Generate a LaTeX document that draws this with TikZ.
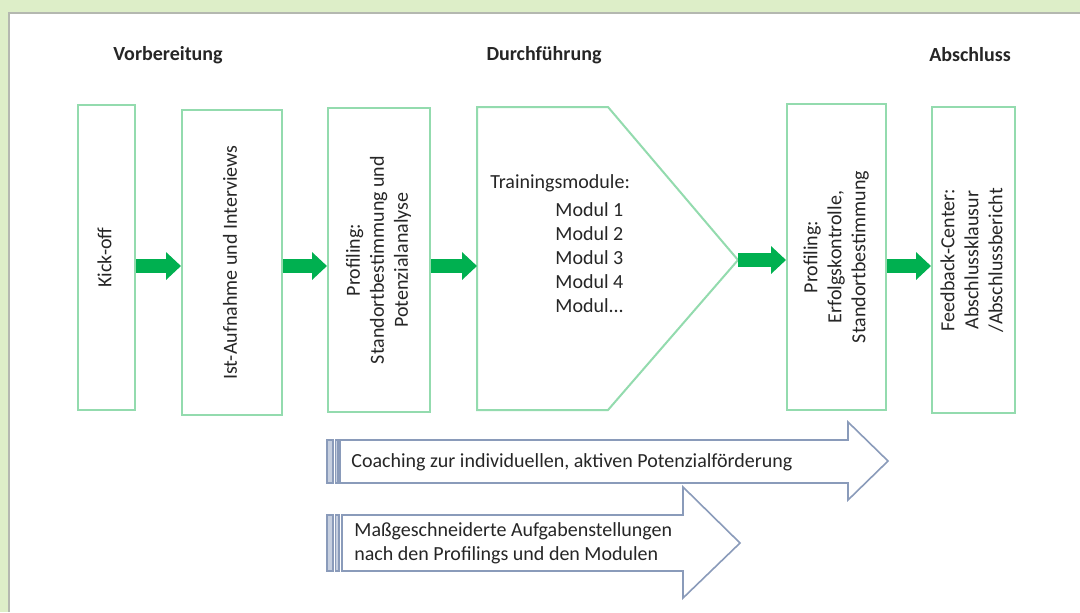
\documentclass[tikz,border=0pt]{standalone}
\usepackage{fontspec}
\setmainfont{Carlito}
\usetikzlibrary{positioning,arrows.meta,calc}
\definecolor{green600}{HTML}{00B050}
\definecolor{green300}{HTML}{93DBAE}
\definecolor{slate500}{HTML}{8A9BBA}
\definecolor{slate200}{HTML}{C6CFDF}
\definecolor{moss100} {HTML}{DDEEC8}
\definecolor{grey400} {HTML}{B4B8B0}
\definecolor{ink}     {HTML}{262626}
\newcommand{\vtext}[1]{\rotatebox{90}{\begin{tabular}{@{}c@{}}#1\end{tabular}}}
\tikzset{
  phase/.style ={draw=green300, line width=1pt, fill=white, inner sep=0pt,
                 text=ink, font=\normalsize},
  hdr/.style   ={font=\bfseries, text=ink, inner sep=1pt},
  lbl/.style   ={font=\normalsize, text=ink, inner sep=1pt},
  garrow/.style={-{Triangle[length=7.5pt,width=13.5pt]}, draw=green600,
                 line width=7pt},
  blk/.style   ={draw=slate500, line width=0.8pt, fill=white,
                 line join=miter},
  stripe/.style={draw=slate500, line width=0.6pt, fill=slate200}
}

\begin{document}
\begin{tikzpicture}[x=0.5pt,y=-0.5pt]
\useasboundingbox (0,0) rectangle (1080,612);
\fill[moss100] (0,0) rectangle (1080,612);
\fill[white] (8,12) rectangle (1080,612);
\draw[grey400, line width=1pt] (8.5,612) -- (8.5,12.5) -- (1080,12.5);

% phase headers
\node[hdr] (prep) at (168,55) {Vorbereitung};
\node[hdr] (exec) at (544,55) {Durchführung};
\node[hdr] (close) at (970,55) {Abschluss};

% phase boxes
\node[phase, minimum width=28.5pt, minimum height=152.5pt] (kick) at (106.5,257.5)
  {\vtext{Kick-off}};
\node[phase, minimum width=50pt, minimum height=152.5pt] (ist) at (232,262.5)
  {\vtext{Ist-Aufnahme und Interviews}};
\node[phase, minimum width=51pt, minimum height=152pt] (prof1) at (379,260)
  {\vtext{Profiling:\\ Standortbestimmung und\\ Potenzialanalyse}};
\node[phase, minimum width=49.5pt, minimum height=153pt] (prof2) at (836.5,257)
  {\vtext{Profiling:\\ Erfolgskontrolle,\\ Standortbestimmung}};
\node[phase, minimum width=41.5pt, minimum height=153pt] (feed) at (973.5,260)
  {\vtext{Feedback-Center:\\ Abschlussklausur\\ /Abschlussbericht}};

% training modules (pentagon)
\draw[draw=green300, line width=1pt, fill=white, line join=miter]
  (477,107) -- (608,107) -- (738,260) -- (608,410) -- (477,410) -- cycle;
\coordinate (trainin) at (477,266);
\coordinate (trainout) at (738,260);
\node[lbl, anchor=west] (tmtitle) at (488,183) {Trainingsmodule:};
\node[lbl, anchor=north west, align=left] (tmlist) at (553,200)
  {Modul 1\\ Modul 2\\ Modul 3\\ Modul 4\\ Modul...};

% flow
\draw[garrow] (kick.east |- 0,266) -- (ist.west |- 0,266);
\draw[garrow] (ist.east |- 0,266) -- (prof1.west |- 0,266);
\draw[garrow] (prof1.east |- trainin) -- (trainin);
\draw[garrow] (trainout) -- (prof2.west |- trainout);
\draw[garrow] (prof2.east |- 0,266) -- (feed.west |- 0,266);

% accompanying measures
\draw[blk] (340,440) -- (848,440) -- (848,422) -- (888,461) -- (848,500)
  -- (848,483) -- (340,483) -- cycle;
\draw[stripe] (327,440) rectangle (333,483);
\draw[stripe] (335.5,440) rectangle (338,483);
\node[lbl, anchor=west] (coach) at (349,462)
  {Coaching zur individuellen, aktiven Potenzialförderung};

\draw[blk] (342,515) -- (683,515) -- (683,487) -- (740,543) -- (683,598)
  -- (683,571) -- (342,571) -- cycle;
\draw[stripe] (327,515) rectangle (333,571);
\draw[stripe] (335.5,515) rectangle (339,571);
\node[lbl, anchor=west, align=left] (tasks) at (352,543)
  {Maßgeschneiderte Aufgabenstellungen\\ nach den Profilings und den Modulen};
\end{tikzpicture}
\end{document}
